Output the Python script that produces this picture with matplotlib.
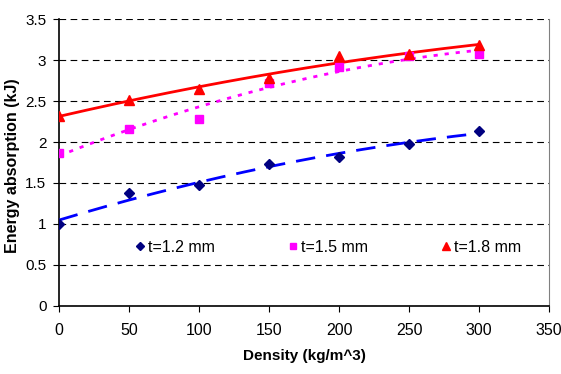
import numpy as np
import matplotlib
matplotlib.use("Agg")
import matplotlib.pyplot as plt

density = [0, 50, 100, 150, 200, 250, 300]
t12 = [1.00, 1.38, 1.47, 1.73, 1.82, 1.98, 2.13]
t15 = [1.87, 2.16, 2.28, 2.72, 2.92, 3.05, 3.07]
t18 = [2.32, 2.51, 2.65, 2.78, 3.05, 3.07, 3.18]
labels = ["t=1.2 mm", "t=1.5 mm", "t=1.8 mm"]

plt.rcParams['font.family'] = ['Liberation Sans', 'DejaVu Sans']
fig = plt.figure(figsize=(5.61, 3.74), dpi=100)
ax = fig.add_axes([0.105, 0.182, 0.874, 0.767])

xs = np.linspace(0, 300, 200)
styles = [
    (t12, 'D', '#000080', '#0000ff', (0, (7, 4)), 5),
    (t15, 's', '#ff00ff', '#ff00ff', (0, (1.5, 2.5)), 6),
    (t18, '^', '#ff0000', '#ff0000', '-', 7),
]
handles = []
for (vals, mk, mc, lc, ls, ms), lab in zip(styles, labels):
    h, = ax.plot(density, vals, linestyle='none', marker=mk, color=mc, markersize=ms, label=lab, zorder=4)
    c = np.polyfit(density, vals, 2)
    ax.plot(xs, np.polyval(c, xs), color=lc, linestyle=ls, linewidth=2, zorder=3)
    handles.append(h)

ax.set_xlim(0, 350)
ax.set_ylim(0, 3.5)
ax.set_xticks(range(0, 351, 50))
ax.set_yticks(np.arange(0, 3.51, 0.5))
ax.set_yticklabels(["0", "0.5", "1", "1.5", "2", "2.5", "3", "3.5"])
ax.yaxis.grid(True, color='black', linestyle=(0, (6, 4)), linewidth=0.8)
ax.set_axisbelow(True)
ax.spines['top'].set_visible(False)
ax.spines['right'].set_color('#808080')
ax.spines['left'].set_linewidth(1.2)
ax.spines['bottom'].set_linewidth(1.2)
ax.tick_params(axis='x', labelsize=11.5, direction='out', length=4, pad=8)
ax.tick_params(axis='y', labelsize=11, direction='out', length=4, pad=5)
ax.set_xlabel("Density (kg/m^3)", fontsize=11, fontweight='bold', labelpad=8)
ax.set_ylabel("Energy absorption (kJ)", fontsize=11.5, fontweight='bold')
ax.yaxis.set_label_coords(-0.08, 0.49)

ax.legend(handles=handles, loc='center', bbox_to_anchor=(0.549, 0.205), ncol=3, frameon=False,
          fontsize=11.5, handlelength=0.6, handletextpad=0.2, columnspacing=4.6, markerscale=0.75)

fig.savefig("out.png", dpi=100)
